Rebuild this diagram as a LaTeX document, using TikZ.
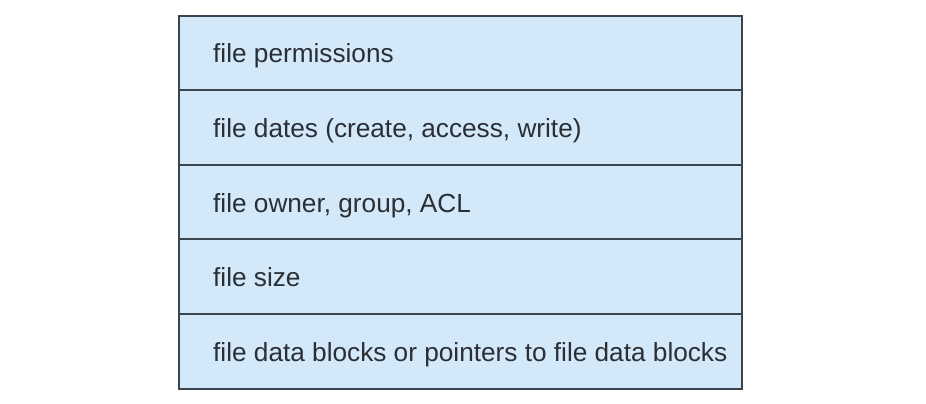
\documentclass[tikz,border=0pt]{standalone}
\usepackage{fontspec}
\setmainfont{Liberation Sans}
\definecolor{rowfill}{HTML}{D3E8F8}
\definecolor{rowline}{HTML}{3A4550}
\definecolor{rowtext}{HTML}{2A2F35}
\begin{document}
\begin{tikzpicture}[x=1pt,y=-1pt,
  fieldbox/.style={draw=rowline, line width=2pt, fill=rowfill, rectangle,
    minimum width=563pt, minimum height=74.6pt, inner sep=0pt, anchor=north west},
  fieldtext/.style={anchor=base west, inner sep=0pt, text=rowtext,
    font=\fontsize{26.2pt}{30pt}\selectfont}]
  \useasboundingbox (0,0) rectangle (926,404);
  % five stacked fields of the record, each with its label
  \foreach \i/\t in {0/file permissions,
                     1/{file dates (create, access, write)},
                     2/{file owner, group, ACL},
                     3/file size,
                     4/file data blocks or pointers to file data blocks} {
    \node[fieldbox] (row\i) at (177.5,{14.6+74.6*\i}) {};
    \node[fieldtext] (label\i) at ([xshift=35.5pt,yshift=-10pt]row\i.west) {\t};
  }
\end{tikzpicture}
\end{document}
